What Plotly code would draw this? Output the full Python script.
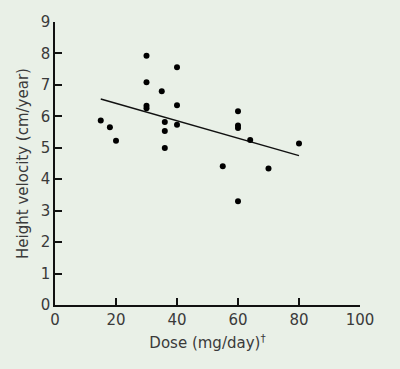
import plotly.graph_objects as go

dose = [15, 18, 20, 30, 30, 30, 30, 35, 36, 36, 36, 40, 40, 40, 55, 60, 60, 60, 60, 64, 70, 80]
velocity = [5.87, 5.65, 5.22, 7.93, 7.08, 6.34, 6.26, 6.80, 5.82, 5.53, 4.99, 7.56, 6.35, 5.73,
            4.41, 6.16, 5.71, 5.63, 3.30, 5.25, 4.34, 5.14]
fit_dose = [15, 80]
fit_velocity = [6.55, 4.75]

x_ticks = [0, 20, 40, 60, 80, 100]
y_ticks = [0, 1, 2, 3, 4, 5, 6, 7, 8, 9]

bg = "#e9f0e7"
font = "DejaVu Sans, sans-serif"
txt = "#3a3a3a"

fig = go.Figure()
fig.add_trace(go.Scatter(x=fit_dose, y=fit_velocity, mode="lines",
                         line=dict(color="#111111", width=1.5), showlegend=False,
                         cliponaxis=False))
fig.add_trace(go.Scatter(x=dose, y=velocity, mode="markers",
                         marker=dict(color="#000000", size=6), showlegend=False,
                         cliponaxis=False))

axis_common = dict(showgrid=False, zeroline=False, showline=True, linecolor="#111111",
                   linewidth=1.5, ticks="inside", ticklen=7, tickwidth=1.5, tickcolor="#111111",
                   tickfont=dict(family=font, size=15, color=txt), mirror=False,
                   automargin=False)

fig.update_layout(
    width=400, height=369,
    margin=dict(l=55, r=40, t=22, b=64),
    paper_bgcolor=bg, plot_bgcolor=bg,
    xaxis=dict(range=[0, 100], tickvals=x_ticks,
               title=dict(text="Dose (mg/day)<sup>†</sup>", font=dict(family=font, size=15, color=txt), standoff=10),
               **axis_common),
    yaxis=dict(range=[0, 9], tickvals=y_ticks,
               title=dict(text="Height velocity (cm/year)", font=dict(family=font, size=15, color=txt), standoff=8),
               **axis_common),
)

fig.write_html(
    "out.html",
    config={"displayModeBar": False},
    post_script="document.body.style.margin='0';document.body.style.background='" + bg + "';",
)
